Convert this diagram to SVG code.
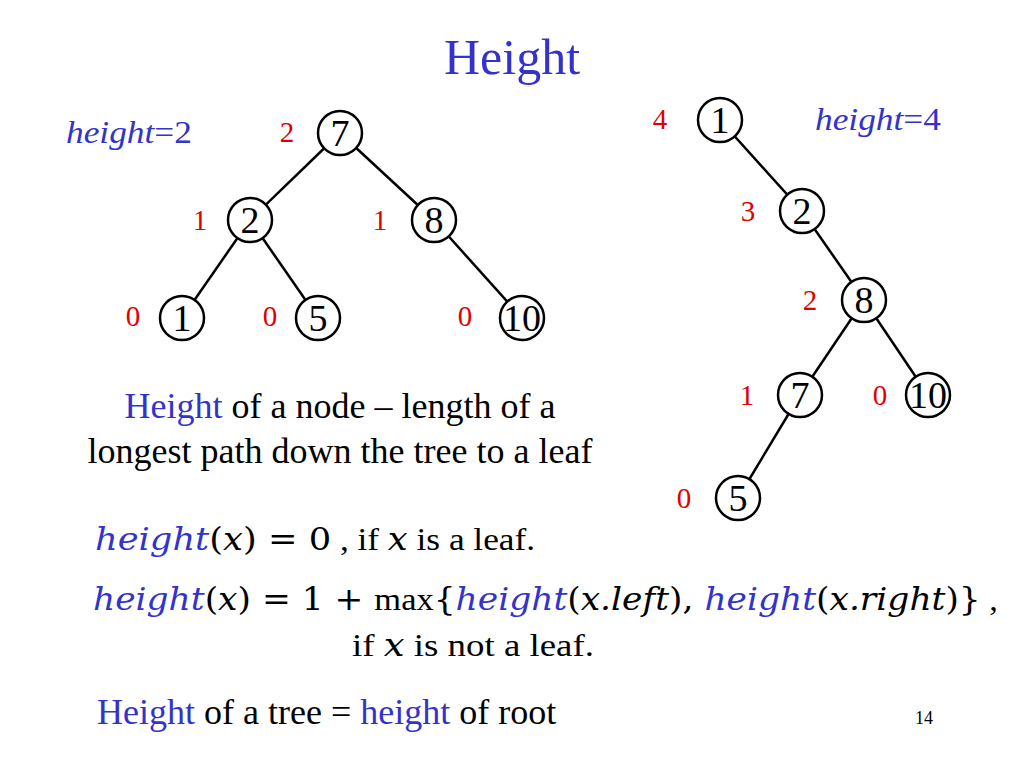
<svg xmlns="http://www.w3.org/2000/svg" width="1024" height="768" viewBox="0 0 1024 768">
<style>
text{font-family:"Liberation Serif","DejaVu Serif",serif;fill:#000}
.n circle{fill:#fff;stroke:#000;stroke-width:2.5}
.n text{font-size:38px;text-anchor:middle}
.r{fill:#e00000;font-size:29px;text-anchor:middle}
.m{font-family:"DejaVu Serif",serif;font-style:italic;fill:#3333cc}
.d{font-family:"DejaVu Serif",serif}
.i{font-family:"DejaVu Serif",serif;font-style:italic}
.e line{stroke:#000;stroke-width:2.5}
</style>
<rect width="1024" height="768" fill="#fff"/>
<text x="512" y="74" font-size="50" text-anchor="middle" style="fill:#3333cc">Height</text>
<text x="66" y="143" font-size="31" textLength="126" lengthAdjust="spacingAndGlyphs"><tspan font-style="italic" style="fill:#3333cc">height</tspan><tspan style="fill:#3333cc">=2</tspan></text>
<text x="815" y="130" font-size="31" textLength="126" lengthAdjust="spacingAndGlyphs"><tspan font-style="italic" style="fill:#3333cc">height</tspan><tspan style="fill:#3333cc">=4</tspan></text>
<g class="e" id="connectors">
<line x1="340" y1="133" x2="250" y2="220"/><line x1="340" y1="133" x2="434" y2="220"/>
<line x1="250" y1="220" x2="182" y2="318"/><line x1="250" y1="220" x2="318" y2="318"/>
<line x1="434" y1="220" x2="522" y2="318"/>
<line x1="720" y1="120" x2="802" y2="211"/><line x1="802" y1="211" x2="864" y2="300"/>
<line x1="864" y1="300" x2="800" y2="395"/><line x1="864" y1="300" x2="928" y2="395"/>
<line x1="800" y1="395" x2="738" y2="498"/>
</g>
<g class="n" id="L7"><circle cx="340" cy="133" r="22"/><text x="340" y="146">7</text></g>
<g class="n" id="L2"><circle cx="250" cy="220" r="22"/><text x="250" y="233">2</text></g>
<g class="n" id="L8"><circle cx="434" cy="220" r="22"/><text x="434" y="233">8</text></g>
<g class="n" id="L1"><circle cx="182" cy="318" r="22"/><text x="182" y="331">1</text></g>
<g class="n" id="L5"><circle cx="318" cy="318" r="22"/><text x="318" y="331">5</text></g>
<g class="n" id="L10"><circle cx="522" cy="318" r="22"/><text x="522" y="331">10</text></g>
<g class="n" id="R1"><circle cx="720" cy="120" r="22"/><text x="720" y="133">1</text></g>
<g class="n" id="R2"><circle cx="802" cy="211" r="22"/><text x="802" y="224">2</text></g>
<g class="n" id="R8"><circle cx="864" cy="300" r="22"/><text x="864" y="313">8</text></g>
<g class="n" id="R7"><circle cx="800" cy="395" r="22"/><text x="800" y="408">7</text></g>
<g class="n" id="R10"><circle cx="928" cy="395" r="22"/><text x="928" y="408">10</text></g>
<g class="n" id="R5"><circle cx="738" cy="498" r="22"/><text x="738" y="511">5</text></g>
<g id="hlabels">
<text class="r" x="287" y="142">2</text><text class="r" x="200" y="230">1</text><text class="r" x="380" y="230">1</text>
<text class="r" x="133" y="326">0</text><text class="r" x="270" y="326">0</text><text class="r" x="465" y="326">0</text>
<text class="r" x="660" y="129">4</text><text class="r" x="748" y="221">3</text><text class="r" x="810" y="310">2</text>
<text class="r" x="747" y="405">1</text><text class="r" x="880" y="405">0</text><text class="r" x="684" y="508">0</text>
</g>
<text x="340" y="418" font-size="36" text-anchor="middle"><tspan style="fill:#3333cc">Height</tspan> of a node – length of a</text>
<text x="340" y="463" font-size="36" text-anchor="middle">longest path down the tree to a leaf</text>
<text x="95" y="550" font-size="31" textLength="440" lengthAdjust="spacingAndGlyphs"><tspan class="m">height</tspan><tspan class="d">(</tspan><tspan class="i">x</tspan><tspan class="d">) = 0</tspan> , if <tspan class="i">x</tspan> is a leaf.</text>
<text x="93" y="610" font-size="31" textLength="905" lengthAdjust="spacingAndGlyphs"><tspan class="m">height</tspan><tspan class="d">(</tspan><tspan class="i">x</tspan><tspan class="d">) = 1 + </tspan>max<tspan class="d">{</tspan><tspan class="m">height</tspan><tspan class="d">(</tspan><tspan class="i">x.left</tspan><tspan class="d">), </tspan><tspan class="m">height</tspan><tspan class="d">(</tspan><tspan class="i">x.right</tspan><tspan class="d">)}</tspan> ,</text>
<text x="352" y="656" font-size="31" textLength="242" lengthAdjust="spacingAndGlyphs">if <tspan class="i">x</tspan> is not a leaf.</text>
<text x="97" y="724" font-size="36"><tspan style="fill:#3333cc">Height</tspan> of a tree = <tspan style="fill:#3333cc">height</tspan> of root</text>
<text x="915" y="724" font-size="18">14</text>
</svg>
